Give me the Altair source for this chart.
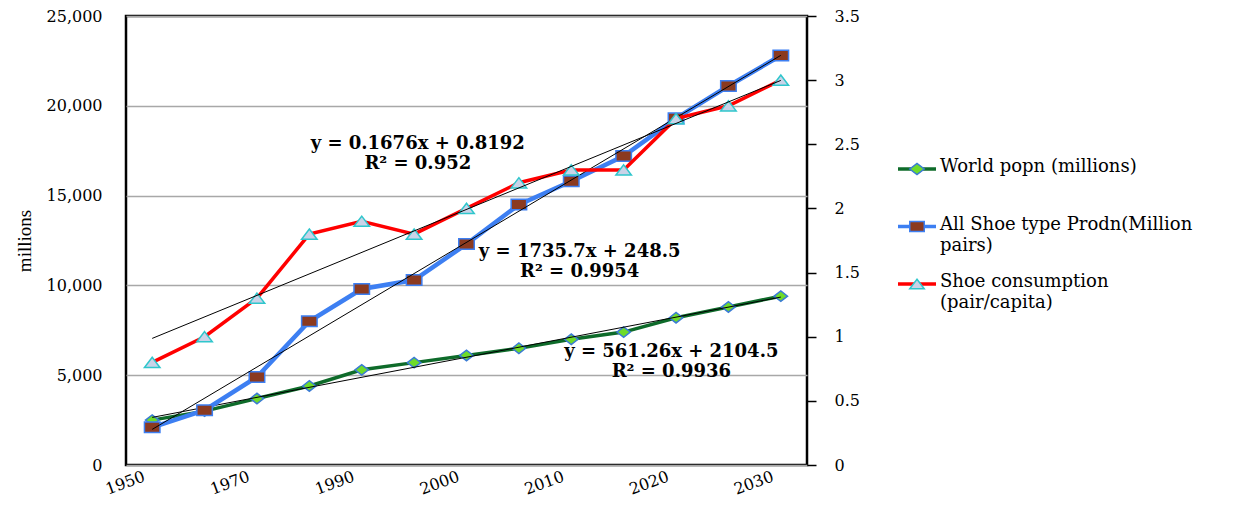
import altair as alt
import pandas as pd

# ---- data ----
years = [1950, 1960, 1970, 1980, 1990, 1995, 2000, 2005, 2010, 2015, 2020, 2025, 2030]
world_popn = [2500, 3000, 3700, 4400, 5300, 5700, 6100, 6500, 7000, 7400, 8200, 8800, 9400]
shoe_prodn = [2100, 3050, 4900, 8000, 9800, 10300, 12300, 14500, 15800, 17200, 19300, 21100, 22800]
shoe_cons = [0.8, 1.0, 1.3, 1.8, 1.9, 1.8, 2.0, 2.2, 2.3, 2.3, 2.7, 2.8, 3.0]
tick_idx = [1, 3, 5, 7, 9, 11, 13]

series_names = ["World popn (millions)", "All Shoe type Prodn(Million pairs)", "Shoe consumption (pair/capita)"]
legend_labels = ["World popn (millions)", "All Shoe type Prodn(Million\npairs)", "Shoe consumption\n(pair/capita)"]

eq_text = ["y = 0.1676x + 0.8192\nR² = 0.952", "y = 1735.7x + 248.5\nR² = 0.9954", "y = 561.26x + 2104.5\nR² = 0.9936"]
eq_idx = [6.07, 9.16, 10.91]
eq_val = [17870, 11860, 6290]

# ---- styling ----
FONT = "DejaVu Serif"
line_colors = ["#0E6B2A", "#3D7FF2", "#FF0000"]
marker_fill = ["#6EDB2A", "#8B3A20", "#C9D3E8"]
marker_stroke = ["#3A7BD5", "#3D7FF2", "#2FC6CC"]
shape_paths = ["M-1,0L0,-0.78L1,0L0,0.78Z", "M-1,-0.68H1V0.68H-1Z", "M0,-0.66L1,0.66L-1,0.66Z"]

df = pd.DataFrame({"idx": list(range(1, len(years) + 1)), "year": years,
                   "popn": world_popn, "prodn": shoe_prodn, "cons": shoe_cons})
ann = pd.DataFrame({"text": eq_text, "idx": eq_idx, "val": eq_val})

year_list = "[" + ",".join("'%d'" % y for y in years) + "]"
X = alt.X("idx:Q", scale=alt.Scale(domain=[0.5, len(years) + 0.5], nice=False, zero=False),
          axis=alt.Axis(values=tick_idx, labelExpr=year_list + "[datum.value-1]", grid=False,
                        ticks=False, title=None, labelAngle=-20, labelAlign="right",
                        labelBaseline="top", labelPadding=3, labelOffset=-11, labelFont=FONT,
                        labelFontSize=16, labelColor="black", domain=False))

left_axis = alt.Axis(title="millions", titleFont="Liberation Serif", titleFontSize=19,
                     titleFontWeight="normal", titleColor="black", titlePadding=12,
                     values=[0, 5000, 10000, 15000, 20000, 25000], format=",.0f",
                     labelFont=FONT, labelFontSize=16, labelColor="black", labelPadding=24,
                     ticks=False, grid=True, gridColor="#A8A8A8", gridWidth=1.5,
                     domain=False)
left_scale = alt.Scale(domain=[0, 25000], nice=False)


def Yl(field):
    return alt.Y(field + ":Q", scale=left_scale, axis=left_axis)


right_axis = alt.Axis(title=None, orient="right", values=[0, 0.5, 1, 1.5, 2, 2.5, 3, 3.5],
                      format=".1~f", labelFont=FONT, labelFontSize=16, labelColor="black",
                      tickSize=9, tickColor="black", tickWidth=1.5, labelPadding=18,
                      grid=False, domain=False)
right_scale = alt.Scale(domain=[0, 3.5], nice=False)


def Yr(field):
    return alt.Y(field + ":Q", scale=right_scale, axis=right_axis)


base = alt.Chart(df)


def series(field, i, Y, width):
    line = base.mark_line(color=line_colors[i], strokeWidth=width).encode(x=X, y=Y(field))
    trend = base.transform_regression("idx", field, extent=[1, len(years)]).mark_line(
        color="black", strokeWidth=1).encode(x=X, y=Y(field))
    pts = base.mark_point(shape=shape_paths[i], size=240 if i else 180, filled=True,
                          fill=marker_fill[i], stroke=marker_stroke[i], strokeWidth=1.5,
                          opacity=1).encode(x=X, y=Y(field))
    return [line, pts, trend]


labels = alt.Chart(ann).mark_text(font=FONT, fontSize=18, fontWeight="bold", color="black",
                                  baseline="middle", lineBreak="\n", lineHeight=20).encode(
    x=X, y=Yl("val"), text="text:N")

left = alt.layer(*series("popn", 0, Yl, 3.5), *series("prodn", 1, Yl, 4.5), labels)
right = alt.layer(*series("cons", 2, Yr, 3.5))

main = alt.layer(left, right).resolve_scale(y="independent").properties(
    width=681, height=449,
    view=alt.ViewBackground(stroke="black", strokeWidth=2.5))

# ---- legend panel ----
ldf = pd.DataFrame({"name": series_names, "label": legend_labels})
LY = alt.Y("name:N", sort=series_names, scale=alt.Scale(type="point", range=[153, 268], padding=0),
           axis=None)
lbase = alt.Chart(ldf)
lrule = lbase.mark_rule(strokeWidth=3.5).encode(
    x=alt.value(24), x2=alt.value(62), y=LY,
    color=alt.Color("name:N", scale=alt.Scale(domain=series_names, range=line_colors), legend=None))
lpts = lbase.mark_point(filled=True, size=210, strokeWidth=1.5, opacity=1).encode(
    x=alt.value(43), y=LY,
    shape=alt.Shape("name:N", scale=alt.Scale(domain=series_names, range=shape_paths), legend=None),
    fill=alt.Fill("name:N", scale=alt.Scale(domain=series_names, range=marker_fill), legend=None),
    stroke=alt.Stroke("name:N", scale=alt.Scale(domain=series_names, range=marker_stroke), legend=None))
ltext = lbase.mark_text(font=FONT, fontSize=18, align="left", baseline="top", dy=-11,
                        lineBreak="\n", lineHeight=21, color="black").encode(
    x=alt.value(66), y=LY, text="label:N")
legend_panel = alt.layer(lrule, lpts, ltext).properties(
    width=330, height=449, view=alt.ViewBackground(stroke="transparent"))

chart = alt.hconcat(main, legend_panel, spacing=12).properties(
    padding={"left": 5, "top": -2, "right": 0, "bottom": 0}
).configure_view(stroke=None)

chart.save("out.html", embed_options={"renderer": "svg", "actions": False})
